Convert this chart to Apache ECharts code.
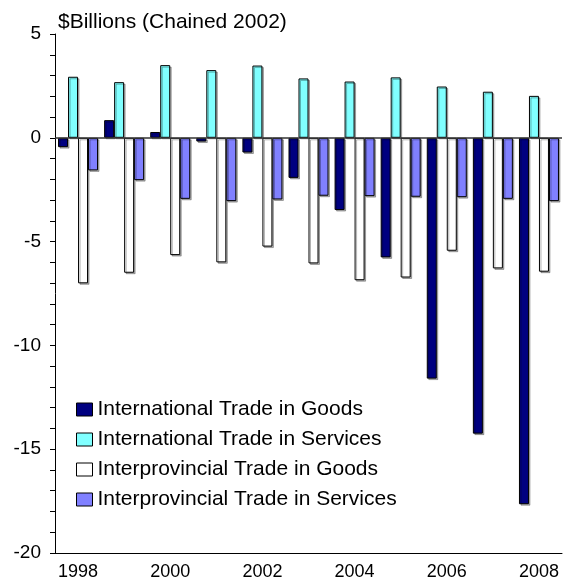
<!DOCTYPE html>
<html>
<head>
<meta charset="utf-8">
<script src="https://cdn.jsdelivr.net/npm/echarts@6/dist/echarts.min.js"></script>
<style>
  html, body { margin: 0; padding: 0; background: #fff; }
  #chart { width: 564px; height: 588px; }
</style>
</head>
<body>
<div id="chart"></div>
<script>
// years on the x axis
const years = ["1998", "1999", "2000", "2001", "2002", "2003", "2004", "2005", "2006", "2007", "2008"];
// series values, $Billions (chained 2002)
const intlGoods = [-0.45, 0.85, 0.28, -0.18, -0.71, -1.93, -3.48, -5.76, -11.6, -14.25, -17.65];
const intlServices = [2.94, 2.68, 3.5, 3.26, 3.48, 2.86, 2.71, 2.91, 2.47, 2.22, 2.02];
const interGoods = [-7.01, -6.5, -5.65, -6.0, -5.24, -6.05, -6.86, -6.73, -5.44, -6.29, -6.45];
const interServices = [-1.57, -2.04, -2.94, -3.05, -2.97, -2.79, -2.81, -2.84, -2.86, -2.94, -3.05];
// y tick labels shown
const yLabels = [5, 0, -5, -10, -15, -20];

const chart = echarts.init(document.getElementById("chart"));

// common bar style
function bar(name, data, color) {
  return {
    name: name,
    type: "bar",
    data: data,
    barWidth: 10,
    barGap: "0%",
    itemStyle: {
      color: color,
      borderColor: "#000",
      borderWidth: 1,
      shadowColor: "rgba(0,0,0,0.3)",
      shadowOffsetX: 1.5,
      shadowOffsetY: 1.5,
    },
  };
}

const series = [
  bar("International Trade in Goods", intlGoods, "#000080"),
  bar("International Trade in Services", intlServices, "#80FFFF"),
  bar("Interprovincial Trade in Goods", interGoods, "#FFFFFF"),
  bar("Interprovincial Trade in Services", interServices, "#8080FF"),
];
// zero line across the plot
series[0].markLine = {
  silent: true,
  symbol: "none",
  label: { show: false },
  lineStyle: { color: "#333", width: 1.5, type: "solid" },
  data: [{ yAxis: 0 }],
};

chart.setOption({
  animation: false,
  title: {
    text: "$Billions (Chained 2002)",
    left: 53,
    top: 7,
    textStyle: { fontFamily: "Liberation Sans", fontSize: 21, fontWeight: "normal", color: "#000" },
  },
  grid: { left: 55, right: 2, top: 34, bottom: 35 },
  legend: {
    orient: "vertical",
    left: 71,
    top: 394,
    itemGap: 9,
    itemWidth: 16,
    itemHeight: 13,
    icon: "rect",
    itemStyle: { shadowColor: "transparent", borderColor: "#000", borderWidth: 1 },
    textStyle: { fontFamily: "Liberation Sans", fontSize: 21, color: "#000" },
    data: series.map((s) => s.name),
  },
  xAxis: {
    type: "category",
    data: years,
    boundaryGap: true,
    axisLine: { onZero: false, lineStyle: { color: "#000", width: 1 } },
    axisTick: { alignWithLabel: true, interval: 0, length: 5, lineStyle: { color: "#000" } },
    axisLabel: {
      interval: 1,
      margin: 10,
      fontFamily: "Liberation Sans",
      fontSize: 18,
      color: "#000",
    },
  },
  yAxis: {
    type: "value",
    min: -20,
    max: 5,
    interval: 1,
    axisLine: { show: true, lineStyle: { color: "#000", width: 1 } },
    axisTick: { show: true, length: 5, lineStyle: { color: "#000" } },
    splitLine: { show: false },
    axisLabel: {
      margin: 14,
      fontFamily: "Liberation Sans",
      fontSize: 19,
      color: "#000",
      formatter: (v) => (yLabels.indexOf(v) >= 0 ? String(v) : ""),
    },
  },
  series: series,
});
</script>
</body>
</html>
